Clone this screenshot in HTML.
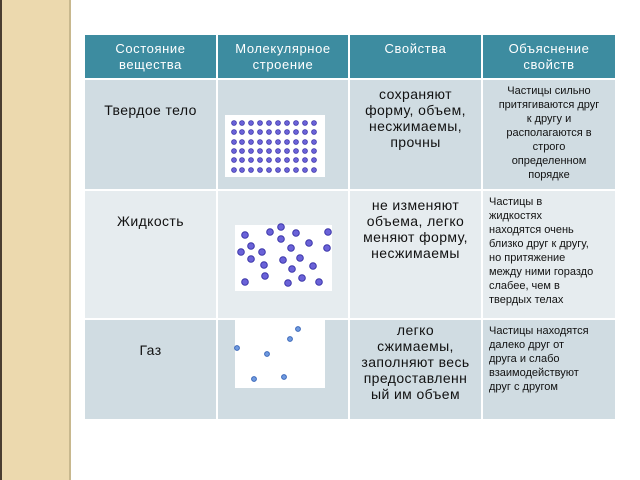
<!DOCTYPE html>
<html><head><meta charset="utf-8"><style>
body{margin:0;width:640px;height:480px;background:#fff;position:relative;overflow:hidden;font-family:"Liberation Sans","DejaVu Sans",sans-serif}
.c{position:absolute;display:flex;justify-content:center;text-align:center;box-sizing:border-box}
.h{background:#3d8ca0;color:#fff;font-size:13px;line-height:16px;align-items:center;letter-spacing:.6px}
.r1{background:#d0dce2}.r2{background:#e6ecef}
.t{font-size:14px;line-height:16px;color:#111;padding-top:6px;letter-spacing:.4px}
.s{font-size:11px;line-height:14px;color:#111;padding:4px 3px 0}
</style></head><body>
<div style="position:absolute;left:0;top:0;width:70px;height:480px;background:#ecd9ae"></div>
<div style="position:absolute;left:0;top:0;width:2px;height:480px;background:#4a3d30"></div>
<div style="position:absolute;left:69px;top:0;width:2px;height:480px;background:#c8b88e"></div>

<div class="c h" style="left:85px;top:35px;width:131px;height:43px">Состояние<br>вещества</div>
<div class="c h" style="left:218px;top:35px;width:130px;height:43px">Молекулярное<br>строение</div>
<div class="c h" style="left:350px;top:35px;width:131px;height:43px;align-items:flex-start;padding-top:6px">Свойства</div>
<div class="c h" style="left:483px;top:35px;width:132px;height:43px">Объяснение<br>свойств</div>

<div class="c r1 t" style="left:85px;top:80px;width:131px;height:109px;padding-top:22px">Твердое тело</div>
<div class="c r1" style="left:218px;top:80px;width:130px;height:109px"></div>
<div class="c r1 t" style="left:350px;top:80px;width:131px;height:109px">сохраняют<br>форму, объем,<br>несжимаемы,<br>прочны</div>
<div class="c r1 s" style="left:483px;top:80px;width:132px;height:109px">Частицы сильно<br>притягиваются друг<br>к другу и<br>располагаются в<br>строго<br>определенном<br>порядке</div>

<div class="c r2 t" style="left:85px;top:191px;width:131px;height:127px;padding-top:22px">Жидкость</div>
<div class="c r2" style="left:218px;top:191px;width:130px;height:127px"></div>
<div class="c r2 t" style="left:350px;top:191px;width:131px;height:127px">не изменяют<br>объема, легко<br>меняют форму,<br>несжимаемы</div>
<div class="c r2 s" style="left:483px;top:191px;width:132px;height:127px;text-align:left;justify-content:flex-start;padding-left:6px">Частицы в<br>жидкостях<br>находятся очень<br>близко друг к другу,<br>но притяжение<br>между ними гораздо<br>слабее, чем в<br>твердых телах</div>

<div class="c r1 t" style="left:85px;top:320px;width:131px;height:99px;padding-top:22px">Газ</div>
<div class="c r1" style="left:218px;top:320px;width:130px;height:99px"></div>
<div class="c r1 t" style="left:350px;top:320px;width:131px;height:99px;padding-top:2px">легко<br>сжимаемы,<br>заполняют весь<br>предоставленн<br>ый им объем</div>
<div class="c r1 s" style="left:483px;top:320px;width:132px;height:99px;text-align:left;justify-content:flex-start;padding-left:6px">Частицы находятся<br>далеко друг от<br>друга и слабо<br>взаимодействуют<br>друг с другом</div>

<svg width="640" height="480" style="position:absolute;left:0;top:0">
<rect x="225" y="115" width="100" height="62" fill="#fff"/>
<rect x="235" y="225" width="97" height="66" fill="#fff"/>
<rect x="235" y="320" width="90" height="68" fill="#fff"/>
<g fill="#6a62d8" stroke="#3b35a8" stroke-width="1">
<circle cx="245" cy="235" r="3.3"/><circle cx="270" cy="232" r="3.3"/><circle cx="281" cy="227" r="3.3"/><circle cx="296" cy="233" r="3.3"/><circle cx="328" cy="232" r="3.3"/><circle cx="251" cy="246" r="3.3"/><circle cx="241" cy="252" r="3.3"/><circle cx="262" cy="252" r="3.3"/><circle cx="281" cy="239" r="3.3"/><circle cx="291" cy="248" r="3.3"/><circle cx="309" cy="243" r="3.3"/><circle cx="327" cy="248" r="3.3"/><circle cx="251" cy="259" r="3.3"/><circle cx="264" cy="265" r="3.3"/><circle cx="283" cy="260" r="3.3"/><circle cx="300" cy="258" r="3.3"/><circle cx="292" cy="269" r="3.3"/><circle cx="313" cy="266" r="3.3"/><circle cx="265" cy="276" r="3.3"/><circle cx="245" cy="282" r="3.3"/><circle cx="288" cy="283" r="3.3"/><circle cx="302" cy="278" r="3.3"/><circle cx="319" cy="282" r="3.3"/>
</g>
<g fill="#6f9ae0" stroke="#3a66b8" stroke-width="1">
<circle cx="298" cy="329" r="2.4"/><circle cx="290" cy="339" r="2.4"/><circle cx="237" cy="348" r="2.4"/><circle cx="267" cy="354" r="2.4"/><circle cx="254" cy="379" r="2.4"/><circle cx="284" cy="377" r="2.4"/>
</g>
<g fill="#6a62d8" stroke="#3b35a8" stroke-width="0.8">
<circle cx="234" cy="123" r="2.4"/><circle cx="242" cy="123" r="2.4"/><circle cx="251" cy="123" r="2.4"/><circle cx="260" cy="123" r="2.4"/><circle cx="269" cy="123" r="2.4"/><circle cx="278" cy="123" r="2.4"/><circle cx="287" cy="123" r="2.4"/><circle cx="296" cy="123" r="2.4"/><circle cx="305" cy="123" r="2.4"/><circle cx="314" cy="123" r="2.4"/>
<circle cx="234" cy="132" r="2.4"/><circle cx="242" cy="132" r="2.4"/><circle cx="251" cy="132" r="2.4"/><circle cx="260" cy="132" r="2.4"/><circle cx="269" cy="132" r="2.4"/><circle cx="278" cy="132" r="2.4"/><circle cx="287" cy="132" r="2.4"/><circle cx="296" cy="132" r="2.4"/><circle cx="305" cy="132" r="2.4"/><circle cx="314" cy="132" r="2.4"/>
<circle cx="234" cy="142" r="2.4"/><circle cx="242" cy="142" r="2.4"/><circle cx="251" cy="142" r="2.4"/><circle cx="260" cy="142" r="2.4"/><circle cx="269" cy="142" r="2.4"/><circle cx="278" cy="142" r="2.4"/><circle cx="287" cy="142" r="2.4"/><circle cx="296" cy="142" r="2.4"/><circle cx="305" cy="142" r="2.4"/><circle cx="314" cy="142" r="2.4"/>
<circle cx="234" cy="151" r="2.4"/><circle cx="242" cy="151" r="2.4"/><circle cx="251" cy="151" r="2.4"/><circle cx="260" cy="151" r="2.4"/><circle cx="269" cy="151" r="2.4"/><circle cx="278" cy="151" r="2.4"/><circle cx="287" cy="151" r="2.4"/><circle cx="296" cy="151" r="2.4"/><circle cx="305" cy="151" r="2.4"/><circle cx="314" cy="151" r="2.4"/>
<circle cx="234" cy="160" r="2.4"/><circle cx="242" cy="160" r="2.4"/><circle cx="251" cy="160" r="2.4"/><circle cx="260" cy="160" r="2.4"/><circle cx="269" cy="160" r="2.4"/><circle cx="278" cy="160" r="2.4"/><circle cx="287" cy="160" r="2.4"/><circle cx="296" cy="160" r="2.4"/><circle cx="305" cy="160" r="2.4"/><circle cx="314" cy="160" r="2.4"/>
<circle cx="234" cy="170" r="2.4"/><circle cx="242" cy="170" r="2.4"/><circle cx="251" cy="170" r="2.4"/><circle cx="260" cy="170" r="2.4"/><circle cx="269" cy="170" r="2.4"/><circle cx="278" cy="170" r="2.4"/><circle cx="287" cy="170" r="2.4"/><circle cx="296" cy="170" r="2.4"/><circle cx="305" cy="170" r="2.4"/><circle cx="314" cy="170" r="2.4"/>
</g>
</svg>
</body></html>
